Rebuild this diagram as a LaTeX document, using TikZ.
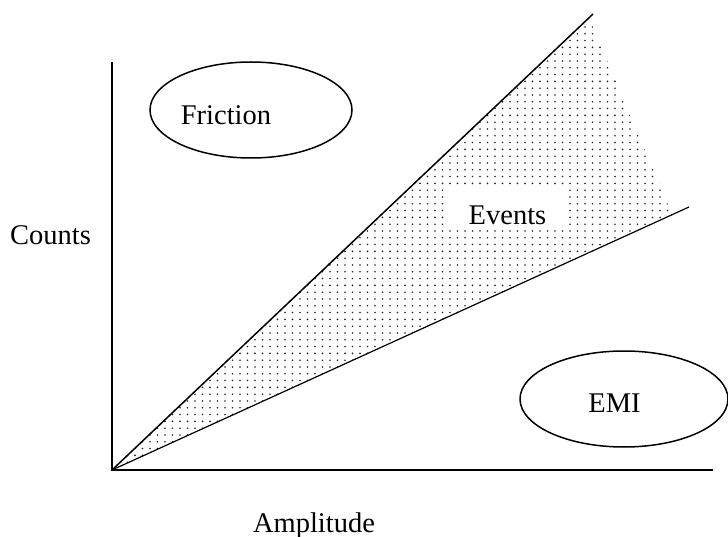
\documentclass[tikz,border=0pt]{standalone}
\usepackage{fontspec}
\setmainfont{Liberation Serif}
\usetikzlibrary{shapes.geometric,patterns}
\pgfdeclarepatternformonly{sparsedots}{\pgfpoint{-1pt}{-1pt}}{\pgfpoint{1pt}{1pt}}{\pgfpoint{7.5pt}{6.8pt}}{\pgfpathcircle{\pgfpointorigin}{0.9pt}\pgfusepath{fill}}
\tikzset{
  lbl/.style={font=\fontsize{28.5}{34}\selectfont, inner sep=0pt, anchor=base},
  blob/.style={draw, ellipse, line width=1.5pt, inner sep=0pt},
}
\begin{document}
\begin{tikzpicture}[x=1pt,y=-1pt]
  \useasboundingbox (0,0) rectangle (728,537);
  \coordinate (O) at (112,470);
  \coordinate (ytop) at (112,62);
  \coordinate (xend) at (713,470);
  \coordinate (upper) at (593,14);
  \coordinate (lower) at (689,207);
  % dotted band between the two lines
  \fill[pattern=sparsedots, pattern color=black!85] (O) -- (589,18) -- (672,214) -- (670,215.5) -- cycle;
  \draw[line width=1.5pt] (O) -- (upper);
  \draw[line width=1.2pt] (O) -- (lower);
  \draw[line width=2pt] (ytop) -- (O) -- (xend);
  \node[fill=white, minimum width=121pt, minimum height=45pt, inner sep=0pt] (evbox) at (507.5,207.5) {};
  \node[lbl] (events) at (507.5,225) {Events};
  \node[blob, minimum width=202pt, minimum height=96pt] (fric) at (251,110) {};
  \node[lbl] (friction) at (226,125) {Friction};
  \node[blob, minimum width=208pt, minimum height=96pt] (emi) at (624,399) {};
  \node[lbl] (emitext) at (614.5,412) {EMI};
  \node[lbl] (counts) at (50.5,245) {Counts};
  \node[lbl] (amp) at (314,532) {Amplitude};
\end{tikzpicture}
\end{document}
